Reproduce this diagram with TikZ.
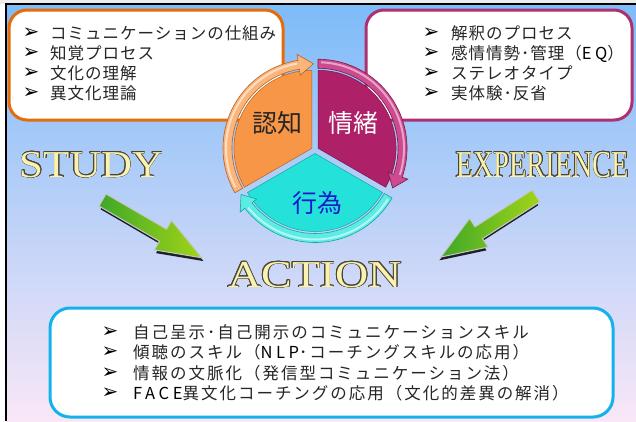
\documentclass[tikz,border=0pt]{standalone}
\usepackage{fontspec}
\setmainfont{Liberation Serif}
\newfontfamily\jp[LetterSpace=6]{Noto Sans CJK JP}
\newfontfamily\jpw[LetterSpace=12]{Noto Sans CJK JP}
\newfontfamily\jpL[LetterSpace=22]{Noto Sans CJK JP}
\newfontfamily\jpb{Noto Sans CJK JP}
\newfontfamily\dv{DejaVu Sans}
\usepackage[copies]{contour}
\contourlength{0.7pt}
\contournumber{16}
\definecolor{bgtop}{HTML}{7DBBF9}
\definecolor{bgmid}{HTML}{B2CCEE}
\definecolor{bgbot}{HTML}{F9E7F7}
\definecolor{oB}{HTML}{E46C0A}
\definecolor{mB}{HTML}{AC316E}
\definecolor{cB}{HTML}{14B2EC}
\definecolor{oF}{HTML}{F79646}
\definecolor{oL}{HTML}{FBB47A}
\definecolor{oD}{HTML}{B8621E}
\definecolor{mF}{HTML}{AE2168}
\definecolor{mL}{HTML}{CE4A90}
\definecolor{mD}{HTML}{7A1848}
\definecolor{cF}{HTML}{24E2DA}
\definecolor{cL}{HTML}{5CECE6}
\definecolor{cD}{HTML}{18A49E}
\definecolor{txc}{HTML}{262626}
\definecolor{gold}{HTML}{FAF2B0}
\definecolor{goldD}{HTML}{4A4636}
\definecolor{gA}{HTML}{3FA828}
\definecolor{gB}{HTML}{A2D418}
\definecolor{actblue}{HTML}{1A1AC8}
\newcommand\lat[1]{{\jpL\fontsize{16.5}{16.5}\selectfont\color{black}#1}}
\tikzset{
  box/.style={draw, line width=3, fill=white, rounded corners=18, inner sep=0},
  bul/.style={font=\dv\fontsize{20}{20}\selectfont, inner sep=0, text=black},
  txt/.style={font=\jp\fontsize{16.5}{16.5}\selectfont, anchor=west, inner sep=0, text height=14.5, text depth=2, text=txc},
  txtw/.style={txt, font=\jpw\fontsize{16.5}{16.5}\selectfont},
  big/.style={font=\fontsize{38}{38}\selectfont, anchor=base, inner sep=0, text=gold},
  cyc/.style={font=\jpb\fontsize{25}{25}\selectfont, inner sep=0},
  garrow/.style={left color=gA, right color=gB, draw=gray!45, line width=1},
}
\begin{document}
\begin{tikzpicture}[x=1pt,y=-1pt]
\useasboundingbox (0,0) rectangle (636,421);
\fill[white] (0,0) rectangle (636,421);
\fill[gray!15] (0,0) rectangle (636,3.5);
\shade[top color=bgtop, middle color=bgmid, bottom color=bgbot] (6,4) rectangle (636,421);
\draw[black, line width=1.2] (6,421) -- (6,4) -- (636,4);

% boxes
\node[box, draw=oB, minimum width=274, minimum height=110] (boxL) at (146,65) {};
\node[box, draw=mB, minimum width=266, minimum height=110] (boxR) at (499,65) {};
\node[box, draw=cB, minimum width=563, minimum height=109, rounded corners=20] (boxB) at (331.5,362.5) {};

% top-left texts
\node[bul] (bl1) at (31,33.5) {➢}; \node[txt] (tl1) at (50,33.5) {コミュニケーションの仕組み};
\node[bul] (bl2) at (31,53.5) {➢}; \node[txt] (tl2) at (50,53.5) {知覚プロセス};
\node[bul] (bl3) at (31,73.5) {➢}; \node[txt] (tl3) at (50,73.5) {文化の理解};
\node[bul] (bl4) at (31,93.5) {➢}; \node[txt] (tl4) at (50,93.5) {異文化理論};
% top-right texts
\node[bul] (br1) at (431,33.5) {➢}; \node[txt] (tr1) at (451,33.5) {解釈のプロセス};
\node[bul] (br2) at (431,53.5) {➢}; \node[txt] (tr2) at (451,53.5) {感情情勢･管理（\lat{EQ}）};
\node[bul] (br3) at (431,73.5) {➢}; \node[txt] (tr3) at (451,73.5) {ステレオタイプ};
\node[bul] (br4) at (431,93.5) {➢}; \node[txt] (tr4) at (451,93.5) {実体験･反省};
% bottom texts
\node[bul] (bb1) at (110,332) {➢}; \node[txtw] (tb1) at (133,332) {自己呈示･自己開示のコミュニケーションスキル};
\node[bul] (bb2) at (110,352.5) {➢}; \node[txtw] (tb2) at (133,352.5) {傾聴のスキル（\lat{NLP}･コーチングスキルの応用）};
\node[bul] (bb3) at (110,373) {➢}; \node[txtw] (tb3) at (133,373) {情報の文脈化（発信型コミュニケーション法）};
\node[bul] (bb4) at (110,393.5) {➢}; \node[txtw] (tb4) at (133,393.5) {\lat{FACE}異文化コーチングの応用（文化的差異の解消）};

% cycle
\begin{scope}[shift={(315,150)}, yscale=-1]
  \begin{scope}[shift={(150:3.5)}]
    \filldraw[fill=oF, draw=oD, line width=0.5] (0,0) -- (90:78) arc[start angle=90, end angle=210, radius=78] -- cycle;
    \filldraw[fill=oL, draw=oD, line width=0.6] (210:89) arc[start angle=210, end angle=99, radius=89] -- (99:95) -- (89:84.5) -- (99:74) -- (99:80) arc[start angle=99, end angle=210, radius=80] -- cycle;
    \draw[white, opacity=0.55, line width=2] (207:86) arc[start angle=207, end angle=100, radius=86];
  \end{scope}
  \begin{scope}[shift={(30:3.5)}]
    \filldraw[fill=mF, draw=mD, line width=0.5] (0,0) -- (-30:78) arc[start angle=-30, end angle=90, radius=78] -- cycle;
    \filldraw[fill=mL, draw=mD, line width=0.6] (90:89) arc[start angle=90, end angle=-19, radius=89] -- (-19:95) -- (-28:84.5) -- (-19:74) -- (-19:80) arc[start angle=-19, end angle=90, radius=80] -- cycle;
    \draw[white, opacity=0.5, line width=2] (88:86) arc[start angle=88, end angle=-18, radius=86];
  \end{scope}
  \begin{scope}[shift={(270:3.5)}]
    \filldraw[fill=cF, draw=cD, line width=0.5] (0,0) -- (210:78) arc[start angle=210, end angle=330, radius=78] -- cycle;
    \filldraw[fill=cL, draw=cD, line width=0.6] (-30:89) arc[start angle=-30, end angle=-142, radius=89] -- (-142:95) -- (-151:84.5) -- (-142:74) -- (-142:80) arc[start angle=-142, end angle=-30, radius=80] -- cycle;
    \draw[white, opacity=0.55, line width=2] (-32:86) arc[start angle=-32, end angle=-141, radius=86];
  \end{scope}
\end{scope}
\node[cyc, text=txc] (ninchi) at (277,123) {認知};
\node[cyc, text=white] (jocho) at (353,123) {情緒};
\node[cyc, text=actblue] (koi) at (317,203) {行為};

% big words
\node[big] (study) at (91.5,177) {\scalebox{1.13}[1]{\contour{goldD}{STUDY}}};
\node[big] (exper) at (542.5,177) {\scalebox{0.745}[1]{\contour{goldD}{EXPERIENCE}}};
\node[big] (action) at (315,287) {\scalebox{1.21}[1]{\contour{goldD}{ACTION}}};

% green arrows
\begin{scope}[shift={(102.5,200)}, rotate=-30.2]
  \fill[black, opacity=0.85] (3,-7+2) -- (73,-7+2) -- (73,-17+2) -- (118,2) -- (73,17+2) -- (73,7+2) -- (3,7+2) -- cycle;
  \shade[garrow] (0,-7) -- (70,-7) -- (70,-17) -- (115,0) -- (70,17) -- (70,7) -- (0,7) -- cycle;
\end{scope}
\begin{scope}[shift={(536,196)}, rotate=-147.3]
  \fill[black, opacity=0.85] (3,-7-2) -- (71,-7-2) -- (71,-17-2) -- (116,-2) -- (71,17-2) -- (71,7-2) -- (3,7-2) -- cycle;
  \shade[garrow] (0,-7) -- (68,-7) -- (68,-17) -- (113,0) -- (68,17) -- (68,7) -- (0,7) -- cycle;
\end{scope}
\end{tikzpicture}
\end{document}
